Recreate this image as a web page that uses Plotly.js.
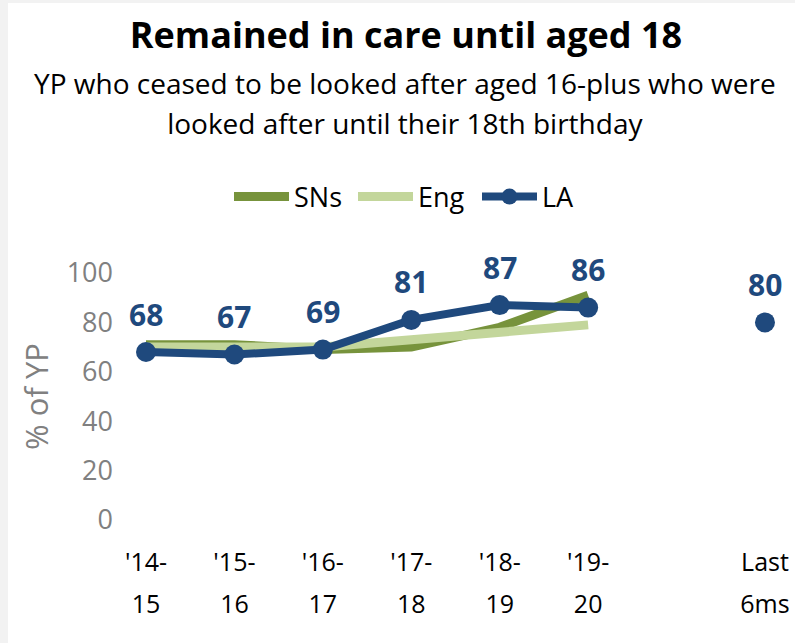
<!DOCTYPE html>
<html>
<head>
<meta charset="utf-8">
<script src="https://cdn.plot.ly/plotly-3.0.1.min.js"></script>
<style>
  html, body { margin: 0; padding: 0; background: #f2f2f2; }
  #chart { width: 795px; height: 643px; }
</style>
</head>
<body>
<div id="chart"></div>
<script>
// ---- data ----
var categories = ["'14-<br>15", "'15-<br>16", "'16-<br>17", "'17-<br>18", "'18-<br>19", "'19-<br>20", " ", "Last<br>6ms"];
var snsValues = [71, 71, 69, 70, 78, 91];
var engValues = [70, 70, 70, 73, 76, 79];
var laValues  = [68, 67, 69, 81, 87, 86, null, 80];
var yTicks = [0, 20, 40, 60, 80, 100];

var titleText = "Remained in care until aged 18";
var subtitleLines = ["YP who ceased to be looked after aged 16-plus who were", "looked after until their 18th birthday"];

var FONT = "'Open Sans', 'Noto Sans', sans-serif";
var NAVY = "#1F497D";

var traces = [
  {
    name: "SNs", type: "scatter", mode: "lines",
    x: categories.slice(0, snsValues.length), y: snsValues,
    line: { color: "#77933C", width: 9 },
    hoverinfo: "skip"
  },
  {
    name: "Eng", type: "scatter", mode: "lines",
    x: categories.slice(0, engValues.length), y: engValues,
    line: { color: "#C3D69B", width: 9 },
    hoverinfo: "skip"
  },
  {
    name: "LA", type: "scatter", mode: "lines+markers",
    x: categories, y: laValues,
    connectgaps: false,
    line: { color: NAVY, width: 8 },
    marker: { color: NAVY, size: 20 },
    cliponaxis: false,
    hoverinfo: "skip"
  }
];

var plotLeft = 120, plotRight = 795, plotTop = 273, plotBottom = 520;
var pw = plotRight - plotLeft, ph = plotBottom - plotTop;
function px2x(p) { return (p - plotLeft) / pw; }
function py2y(p) { return (plotBottom - p) / ph; }

// data labels for LA, built from the data arrays
var labelAnnotations = [];
laValues.forEach(function (v, i) {
  if (v === null) return;
  labelAnnotations.push({
    x: categories[i], y: v, xref: "x", yref: "y",
    text: "<b>" + v + "</b>",
    showarrow: false, yanchor: "middle", xanchor: "center",
    yshift: 38,
    font: { family: FONT, size: 30, color: NAVY }
  });
});

function spaced(parts, size) {
  return parts.map(function (p) {
    return "<span style='font-size:" + size + "px'>" + p + "</span>";
  }).join("<br>");
}

// tick labels with wider line spacing: outer font big, inner span smaller
var tickText = categories.map(function (c) { return spaced(c.split("<br>"), 25); });

var layout = {
  width: 795, height: 643,
  paper_bgcolor: "#f2f2f2",
  plot_bgcolor: "rgba(0,0,0,0)",
  margin: { l: plotLeft, r: 795 - plotRight, t: plotTop, b: 643 - plotBottom, pad: 0 },
  font: { family: FONT, color: "#000" },
  title: {
    text: "<b>" + titleText + "</b>",
    font: { family: FONT, size: 36, color: "#000" },
    x: 406 / 795, xanchor: "center", xref: "container",
    y: 1 - 23 / 643, yanchor: "top", yref: "container"
  },
  showlegend: true,
  legend: {
    orientation: "h",
    x: px2x(229), xanchor: "left",
    y: py2y(197), yanchor: "middle",
    font: { family: FONT, size: 27, color: "#000" },
    bgcolor: "rgba(0,0,0,0)",
    traceorder: "normal",
    itemwidth: 55,
    entrywidth: 54
  },
  xaxis: {
    type: "category",
    categoryorder: "array",
    categoryarray: categories,
    tickmode: "array",
    tickvals: categories,
    ticktext: tickText,
    range: [-26 / 88.4, 7 + 30 / 88.4],
    showgrid: false, zeroline: false, showline: false,
    ticks: "", tickfont: { family: FONT, size: 32, color: "#000" },
    ticklabelstandoff: 18,
    fixedrange: true
  },
  yaxis: {
    range: [0, 100],
    tickvals: yTicks,
    ticktext: yTicks.map(String),
    showgrid: false, zeroline: false, showline: false,
    ticks: "", tickfont: { family: FONT, size: 27, color: "#808080" },
    ticklabelstandoff: 6,
    title: { text: "% of YP", font: { family: FONT, size: 31, color: "#808080" }, standoff: 8 },
    fixedrange: true
  },
  annotations: [
    {
      text: spaced(subtitleLines, 28),
      xref: "paper", yref: "paper",
      x: px2x(405), y: py2y(62),
      xanchor: "center", yanchor: "top",
      showarrow: false,
      font: { family: FONT, size: 31, color: "#000" },
      align: "center"
    }
  ].concat(labelAnnotations),
  shapes: [
    {
      type: "rect", layer: "below",
      xref: "paper", yref: "paper",
      x0: px2x(8), x1: px2x(800), y0: py2y(3), y1: py2y(650),
      fillcolor: "#ffffff", line: { width: 0 }
    }
  ]
};

Plotly.newPlot("chart", traces, layout, { displayModeBar: false, staticPlot: true });
</script>
</body>
</html>
